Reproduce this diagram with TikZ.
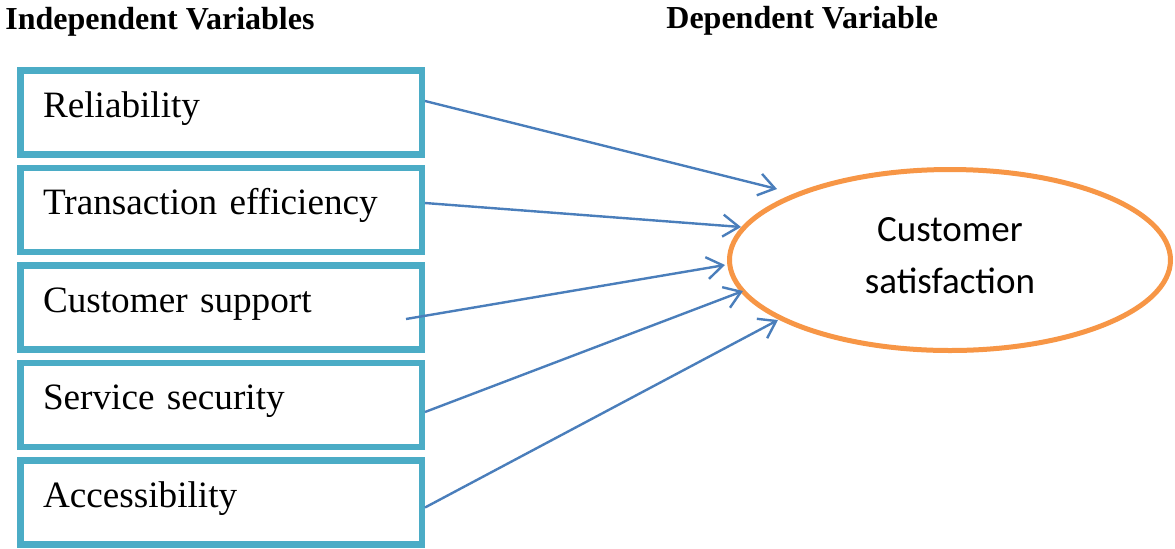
\documentclass[tikz,border=0pt]{standalone}
\usepackage{fontspec}
\setmainfont{Liberation Serif}
\newfontfamily\ovalfont{Carlito}
\usetikzlibrary{shapes.geometric, arrows.meta, positioning, calc}
\definecolor{boxblue}{HTML}{4BACC6}
\definecolor{linkblue}{HTML}{4A7EBB}
\definecolor{ovalorange}{HTML}{F79646}
\tikzset{
	varbox/.style={rectangle, draw=boxblue, line width=3.25pt, fill=white,
		minimum width=200.75pt, minimum height=42pt, text width=178pt, inner xsep=11.375pt,
		align=left, text height=12pt, text depth=7.5pt, font=\fontsize{18.6}{22}\selectfont},
	outcome/.style={ellipse, draw=ovalorange, line width=2.5pt, fill=white,
		minimum width=220.5pt, minimum height=90.5pt, inner sep=0pt, align=center,
		text height=37pt, text depth=4pt, font=\ovalfont\fontsize{18.5}{26}\selectfont},
	heading/.style={anchor=base west, inner sep=0pt, font=\bfseries\fontsize{16}{19}\selectfont},
	link/.style={-{Straight Barb[length=8pt,width=11pt]}, line width=1.2pt, draw=linkblue},
}
\begin{document}
\begin{tikzpicture}[x=0.5pt,y=-0.5pt,node distance=3.5pt]
	\useasboundingbox(0,0)rectangle(1175,548);
	% column headings
	\node[heading](indep)at(5,29){Independent Variables};
	\node[heading](dep)at(666,28){Dependent Variable};
	% independent variables
	\node[varbox](r1)at(221,112.5){Reliability};
	\node[varbox,below=of r1](r2){Transaction efficiency};
	\node[varbox,below=of r2](r3){Customer support};
	\node[varbox,below=of r3](r4){Service security};
	\node[varbox,below=of r4](r5){Accessibility};
	% dependent variable
	\node[outcome](cs)at(950,260){Customer\\satisfaction};
	\draw[link]($(r1.east)+(0,-11.5)$)--($(cs.center)+(-173,-71)$);
	\draw[link]($(r2.east)+(0,-7)$)--($(cs.center)+(-209,-33)$);
	\draw[link]($(r3.east)+(-19,11.5)$)--($(cs.center)+(-225,5)$);
	\draw[link]($(r4.east)+(0,7)$)--($(cs.center)+(-207,31)$);
	\draw[link]($(r5.east)+(0,5)$)--($(cs.center)+(-172,60)$);
\end{tikzpicture}
\end{document}
